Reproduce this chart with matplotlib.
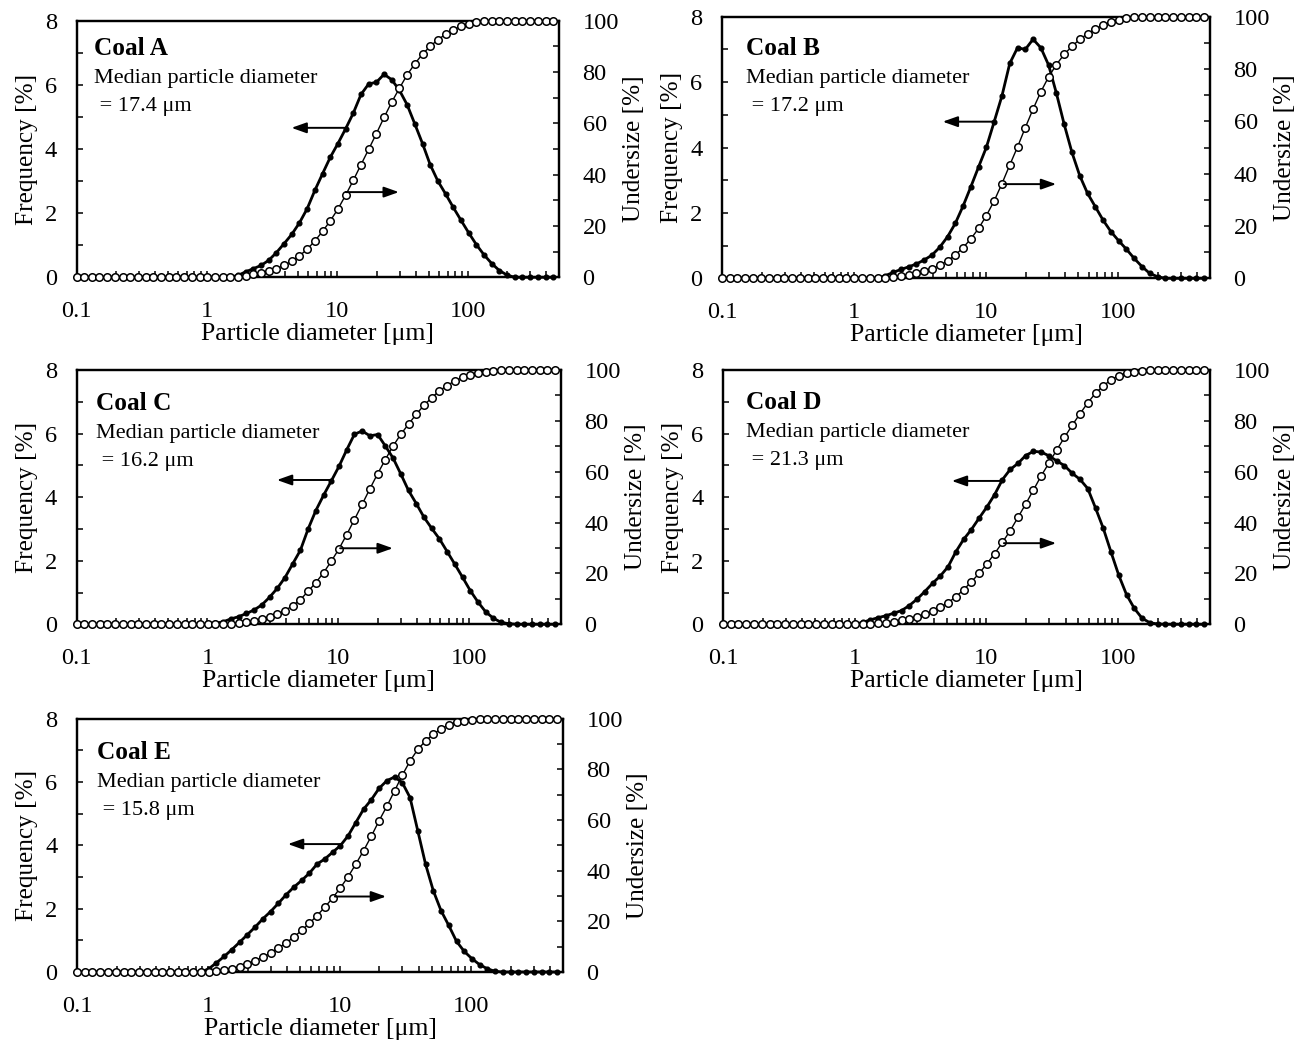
"""Particle size distributions of five coals (frequency + cumulative undersize)."""
import matplotlib.pyplot as plt
from matplotlib.ticker import FixedLocator, LogLocator, NullFormatter, MultipleLocator
from matplotlib.transforms import offset_copy

plt.rcParams['font.family'] = ['Liberation Serif', 'DejaVu Serif']
plt.rcParams['font.size'] = 17.6

# --- Data: laser diffraction size channels [um] ---
diameter = [0.100, 0.115, 0.131, 0.150, 0.172, 0.197, 0.226, 0.259, 0.296, 0.339,
            0.389, 0.445, 0.510, 0.584, 0.669, 0.766, 0.877, 1.005, 1.151, 1.318,
            1.510, 1.729, 1.981, 2.269, 2.599, 2.976, 3.409, 3.905, 4.472, 5.122,
            5.867, 6.720, 7.697, 8.816, 10.097, 11.565, 13.246, 15.172, 17.377, 19.904,
            22.797, 26.111, 29.907, 34.255, 39.234, 44.938, 51.471, 58.953, 67.523, 77.339,
            88.583, 101.46, 116.21, 133.10, 152.45, 174.62, 200.00, 229.08, 262.38, 300.52,
            344.21, 394.24, 451.56]

freq_a = [0, 0, 0, 0, 0, 0, 0, 0, 0, 0,
          0, 0, 0, 0, 0, 0, 0, 0, 0, 0,
          0, 0.06, 0.17, 0.27, 0.37, 0.53, 0.77, 1.05, 1.34, 1.70,
          2.14, 2.71, 3.23, 3.74, 4.17, 4.63, 5.12, 5.70, 6.03, 6.08,
          6.33, 6.16, 5.83, 5.38, 4.78, 4.17, 3.51, 3.00, 2.60, 2.18,
          1.78, 1.39, 1.02, 0.70, 0.43, 0.21, 0.07, 0, 0, 0,
          0, 0, 0]
under_a = [0, 0, 0, 0, 0, 0, 0, 0, 0, 0,
           0, 0, 0, 0, 0, 0, 0, 0, 0, 0,
           0.1, 0.3, 0.6, 1.1, 1.7, 2.4, 3.4, 4.7, 6.3, 8.4,
           10.9, 14.2, 17.9, 22.0, 26.6, 32.0, 37.8, 43.9, 49.9, 56.0,
           62.3, 68.3, 73.7, 78.9, 83.2, 87.0, 90.0, 92.6, 94.7, 96.5,
           97.8, 98.8, 99.4, 99.8, 99.9, 100, 100, 100, 100, 100,
           100, 100, 100]

freq_b = [0, 0, 0, 0, 0, 0, 0, 0, 0, 0,
          0, 0, 0, 0, 0, 0, 0, 0, 0, 0,
          0, 0.08, 0.18, 0.27, 0.35, 0.44, 0.56, 0.71, 0.95, 1.27,
          1.68, 2.21, 2.80, 3.41, 4.01, 4.79, 5.58, 6.57, 7.05, 7.00,
          7.31, 7.05, 6.52, 5.66, 4.71, 3.85, 3.14, 2.60, 2.19, 1.78,
          1.43, 1.15, 0.89, 0.61, 0.36, 0.15, 0.05, 0, 0, 0,
          0, 0, 0]
under_b = [0, 0, 0, 0, 0, 0, 0, 0, 0, 0,
           0, 0, 0, 0, 0, 0, 0, 0, 0, 0,
           0.1, 0.3, 0.6, 1.0, 1.4, 2.0, 2.7, 3.7, 5.0, 6.7,
           8.9, 11.7, 15.1, 19.1, 24.0, 29.6, 36.2, 43.3, 50.2, 57.6,
           64.7, 71.3, 77.0, 81.7, 85.6, 88.7, 91.3, 93.5, 95.3, 96.8,
           97.9, 98.8, 99.4, 99.8, 99.9, 100, 100, 100, 100, 100,
           100, 100, 100]

freq_c = [0, 0, 0, 0, 0, 0, 0, 0, 0, 0,
          0, 0, 0, 0, 0, 0, 0, 0, 0.03, 0.08,
          0.17, 0.24, 0.34, 0.45, 0.61, 0.85, 1.13, 1.47, 1.90, 2.33,
          3.00, 3.58, 4.06, 4.51, 4.97, 5.49, 5.98, 6.08, 5.93, 5.97,
          5.61, 5.23, 4.73, 4.21, 3.80, 3.37, 3.02, 2.69, 2.29, 1.89,
          1.48, 1.06, 0.70, 0.39, 0.19, 0.06, 0.02, 0, 0, 0,
          0, 0, 0]
under_c = [0, 0, 0, 0, 0, 0, 0, 0, 0, 0,
           0, 0, 0, 0, 0, 0, 0, 0, 0.03, 0.1,
           0.3, 0.5, 0.9, 1.3, 1.9, 2.8, 3.9, 5.4, 7.3, 9.7,
           13.0, 16.4, 20.3, 24.8, 29.7, 35.3, 41.2, 47.2, 53.3, 59.2,
           64.8, 70.1, 74.7, 78.7, 82.6, 86.1, 89.1, 91.8, 93.9, 95.7,
           97.1, 98.2, 98.9, 99.4, 99.7, 99.9, 100, 100, 100, 100,
           100, 100, 100]

freq_d = [0, 0, 0, 0, 0, 0, 0, 0, 0, 0,
          0, 0, 0, 0, 0, 0, 0, 0, 0.06, 0.14,
          0.21, 0.27, 0.35, 0.43, 0.59, 0.79, 1.03, 1.29, 1.52, 1.81,
          2.28, 2.67, 2.98, 3.34, 3.69, 4.08, 4.55, 4.87, 5.06, 5.31,
          5.44, 5.42, 5.30, 5.14, 4.99, 4.75, 4.56, 4.27, 3.66, 3.02,
          2.27, 1.54, 0.93, 0.50, 0.19, 0.05, 0.01, 0, 0, 0,
          0, 0, 0]
under_d = [0, 0, 0, 0, 0, 0, 0, 0, 0, 0,
           0, 0, 0, 0, 0, 0, 0, 0, 0.06, 0.2,
           0.4, 0.7, 1.0, 1.5, 2.0, 2.8, 3.9, 5.2, 6.7, 8.5,
           10.8, 13.6, 16.7, 20.0, 23.8, 27.8, 32.2, 36.8, 42.0, 47.3,
           52.8, 58.4, 63.4, 68.6, 73.5, 78.3, 82.8, 87.1, 90.9, 93.7,
           96.2, 97.8, 98.8, 99.4, 99.8, 99.9, 100, 100, 100, 100,
           100, 100, 100]

freq_e = [0, 0, 0, 0, 0, 0, 0, 0, 0, 0,
          0, 0, 0, 0, 0, 0, 0, 0.10, 0.29, 0.49,
          0.71, 0.94, 1.18, 1.42, 1.68, 1.91, 2.17, 2.44, 2.68, 2.89,
          3.12, 3.41, 3.57, 3.78, 3.99, 4.30, 4.72, 5.14, 5.44, 5.80,
          6.04, 6.16, 5.98, 5.51, 4.46, 3.41, 2.57, 1.94, 1.47, 0.97,
          0.65, 0.42, 0.23, 0.10, 0.02, 0, 0, 0, 0, 0,
          0, 0, 0]
under_e = [0, 0, 0, 0, 0, 0, 0, 0, 0, 0,
           0, 0, 0, 0, 0, 0, 0, 0.1, 0.3, 0.7,
           1.3, 2.1, 3.2, 4.5, 5.9, 7.5, 9.4, 11.5, 13.8, 16.4,
           19.2, 22.3, 25.6, 29.2, 33.2, 37.6, 42.6, 47.9, 53.6, 59.7,
           65.4, 71.5, 77.7, 83.3, 87.9, 91.2, 93.9, 96.0, 97.6, 98.6,
           99.2, 99.6, 99.9, 100, 100, 100, 100, 100, 100, 100,
           100, 100, 100]

coal_names = ["Coal A", "Coal B", "Coal C", "Coal D", "Coal E"]
median_um = ["17.4", "17.2", "16.2", "21.3", "15.8"]
frequencies = [freq_a, freq_b, freq_c, freq_d, freq_e]
undersizes = [under_a, under_b, under_c, under_d, under_e]

x_ticks = [0.1, 1, 10, 100]
x_ticklabels = ["0.1", "1", "10", "100"]

# --- Layout (pixel boxes on a 1312x1044 canvas: left, top, right, bottom) ---
W, H = 1312, 1044
boxes = [(76.5, 20.7, 559, 277.3), (722, 16.7, 1210, 278.3),
         (76.5, 370, 561, 624.3), (723, 370, 1210, 624.3),
         (77, 718.7, 563, 972)]
# text offsets (px from top-left corner of axes to first baseline)
text_off = [(17, 34), (24, 38), (20, 40), (23, 39), (20, 40)]
# arrows: (freq arrow head x, tail x, y), (undersize arrow tail x, head x, y)
left_arrows = [(4.45, 11.6, 4.66), (4.71, 11.9, 4.79), (3.39, 8.9, 4.54),
               (5.47, 13.7, 4.51), (4.03, 10.3, 4.04)]
right_arrows = [(11.6, 29.6, 33.2), (13.7, 34.1, 36.0), (10.3, 26.0, 29.9),
                (13.6, 33.9, 31.9), (9.18, 22.5, 29.8)]

fig = plt.figure(figsize=(W / 100, H / 100), dpi=100)
arrow_kw = dict(arrowstyle="-|>,head_length=0.9,head_width=0.32",
                mutation_scale=10, color="black", lw=1.4,
                shrinkA=0, shrinkB=0)

for k in range(5):
    l, t, r, b = boxes[k]
    ax = fig.add_axes([l / W, 1 - b / H, (r - l) / W, (b - t) / H])
    ax2 = ax.twinx()

    ax.plot(diameter, frequencies[k], color="black", lw=2.0, marker="o",
            ms=3.4, clip_on=False, zorder=3)
    ax2.plot(diameter, undersizes[k], color="black", lw=1.0, marker="o",
             ms=5.4, mfc="white", mec="black", mew=1.1, clip_on=False, zorder=3)

    ax.set_xscale("log")
    ax.set_xlim(0.1, 500)
    ax.set_ylim(0, 8)
    ax2.set_ylim(0, 100)

    ax.xaxis.set_major_locator(FixedLocator(x_ticks))
    ax.set_xticklabels(x_ticklabels)
    ax.xaxis.set_minor_locator(LogLocator(base=10, subs=range(2, 10)))
    ax.xaxis.set_minor_formatter(NullFormatter())
    ax.yaxis.set_major_locator(MultipleLocator(2))
    ax.yaxis.set_minor_locator(MultipleLocator(1))
    ax2.yaxis.set_major_locator(MultipleLocator(20))
    ax2.yaxis.set_minor_locator(MultipleLocator(10))

    ax.tick_params(axis="both", which="both", direction="in", length=4.3,
                   width=1.1, top=False, right=False)
    ax.tick_params(axis="x", pad=17)
    ax.tick_params(axis="y", pad=14)
    ax2.tick_params(axis="y", which="both", direction="in", length=4.3,
                    width=1.1, pad=17)
    for a in (ax, ax2):
        for s in a.spines.values():
            s.set_linewidth(1.6)

    ax.set_xlabel("Particle diameter [μm]", fontsize=18.5)
    ax.set_ylabel("Frequency [%]", fontsize=18.2)
    ax2.set_ylabel("Undersize [%]", fontsize=18.2)
    wpx, hpx = r - l, b - t
    ax.xaxis.set_label_coords(0.5, -46 / hpx)
    ax.yaxis.set_label_coords(-39 / wpx, 0.5)
    ax2.yaxis.set_label_coords(1 + 64 / wpx, 0.5)

    dx, dy = text_off[k]
    lines = [(coal_names[k], "bold", 18.2),
             ("Median particle diameter", "normal", 16.0),
             (" = " + median_um[k] + " μm", "normal", 16.0)]
    for j, (txt, wt, fs) in enumerate(lines):
        tr = offset_copy(ax.transAxes, fig=fig, x=dx, y=-(dy + 28 * j), units="dots")
        ax.text(0, 1, txt, transform=tr, fontweight=wt, fontsize=fs,
                ha="left", va="baseline")

    hx, tx, y = left_arrows[k]
    ax.annotate("", xy=(hx, y), xytext=(tx, y), arrowprops=arrow_kw)
    tx, hx, y = right_arrows[k]
    ax2.annotate("", xy=(hx, y), xytext=(tx, y), arrowprops=arrow_kw)

fig.savefig("out.png", dpi=100)
